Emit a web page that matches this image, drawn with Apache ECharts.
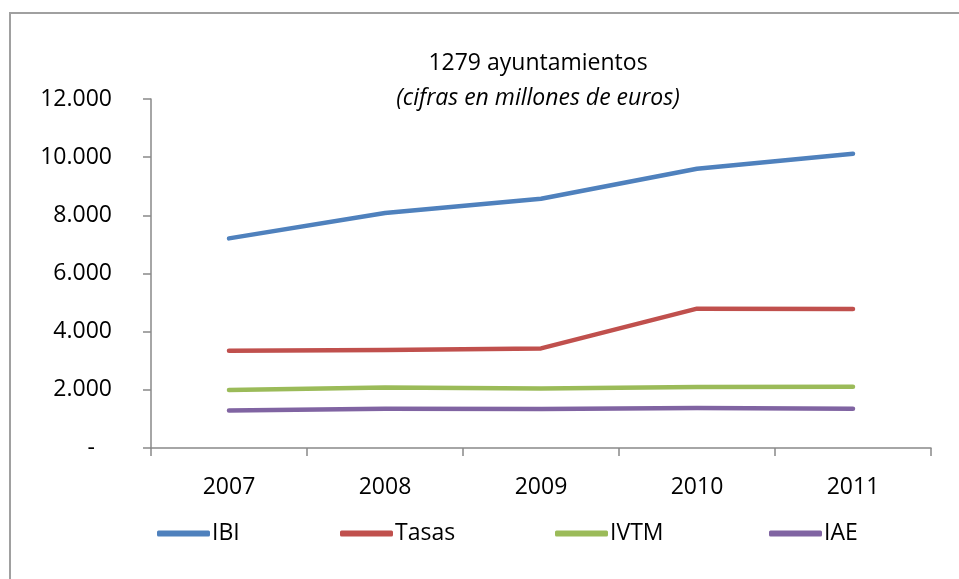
<!DOCTYPE html>
<html>
<head>
<meta charset="utf-8">
<script src="https://cdn.jsdelivr.net/npm/echarts@6/dist/echarts.min.js"></script>
<style>
html,body{margin:0;padding:0;background:#fff;}
#chart{width:959px;height:579px;}
</style>
</head>
<body>
<div id="chart"></div>
<script>
const years = ['2007', '2008', '2009', '2010', '2011'];
const ibi = [7207, 8080, 8570, 9600, 10120];
const tasas = [3345, 3370, 3425, 4790, 4780];
const ivtm = [1994, 2084, 2049, 2097, 2108];
const iae = [1293, 1351, 1341, 1375, 1351];
const seriesNames = ['IBI', 'Tasas', 'IVTM', 'IAE'];
const colors = ['#4F81BD', '#C0504D', '#9BBB59', '#8064A2'];
const titleText = '1279 ayuntamientos';
const subtitleText = '(cifras en millones de euros)';

const FONT = 'Open Sans';
const chart = echarts.init(document.getElementById('chart'), null, {renderer: 'canvas'});

function fmt(v) {
  if (v === 0) return '{d|-}';
  return String(v).replace(/\B(?=(\d{3})+(?!\d))/g, '.');
}

const dataSets = [ibi, tasas, ivtm, iae];
const legendLeft = [157, 340, 555, 769];

const option = {
  backgroundColor: '#fff',
  animation: false,
  color: colors,
  title: [
    {text: titleText, left: 538, top: 52, textAlign: 'center', padding: 0,
     textStyle: {fontFamily: FONT, fontSize: 23, fontWeight: 'normal', color: '#000'}},
    {text: subtitleText, left: 538, top: 87, textAlign: 'center', padding: 0,
     textStyle: {fontFamily: FONT, fontSize: 23, fontWeight: 'normal', fontStyle: 'italic', color: '#000'}}
  ],
  legend: seriesNames.map((n, i) => ({
    data: [n], left: legendLeft[i], top: 522, padding: 0,
    icon: 'roundRect', itemWidth: 53, itemHeight: 6, itemGap: 0,
    textStyle: {fontFamily: FONT, fontSize: 23, color: '#000', padding: [0, 0, 0, -3]}
  })),
  grid: {left: 151, right: 28, top: 99, bottom: 131, containLabel: false},
  xAxis: {
    type: 'category', data: years, boundaryGap: true,
    axisLine: {show: true, lineStyle: {color: '#898989', width: 1.5}},
    axisTick: {show: true, length: 8, lineStyle: {color: '#898989', width: 1.5}},
    axisLabel: {fontFamily: FONT, fontSize: 23, color: '#000', margin: 28},
    splitLine: {show: false}
  },
  yAxis: {
    type: 'value', min: 0, max: 12000, interval: 2000,
    axisLine: {show: true, lineStyle: {color: '#898989', width: 1.5}},
    axisTick: {show: true, length: 8, lineStyle: {color: '#898989', width: 1.5}},
    axisLabel: {fontFamily: FONT, fontSize: 23, color: '#000', margin: 39, formatter: fmt,
      rich: {d: {fontFamily: FONT, fontSize: 23, color: '#000', padding: [0, 17, 0, 0]}}},
    splitLine: {show: false}
  },
  graphic: [{
    type: 'rect', shape: {x: 10, y: 13, width: 1000, height: 1000},
    style: {fill: 'none', stroke: '#A0A0A0', lineWidth: 2}, silent: true, z: -1
  }],
  series: seriesNames.map((n, i) => ({
    name: n, type: 'line', data: dataSets[i], showSymbol: false, symbol: 'none',
    lineStyle: {width: 4.5, color: colors[i], cap: 'round', join: 'round'},
    itemStyle: {color: colors[i]}
  }))
};
chart.setOption(option);
</script>
</body>
</html>
